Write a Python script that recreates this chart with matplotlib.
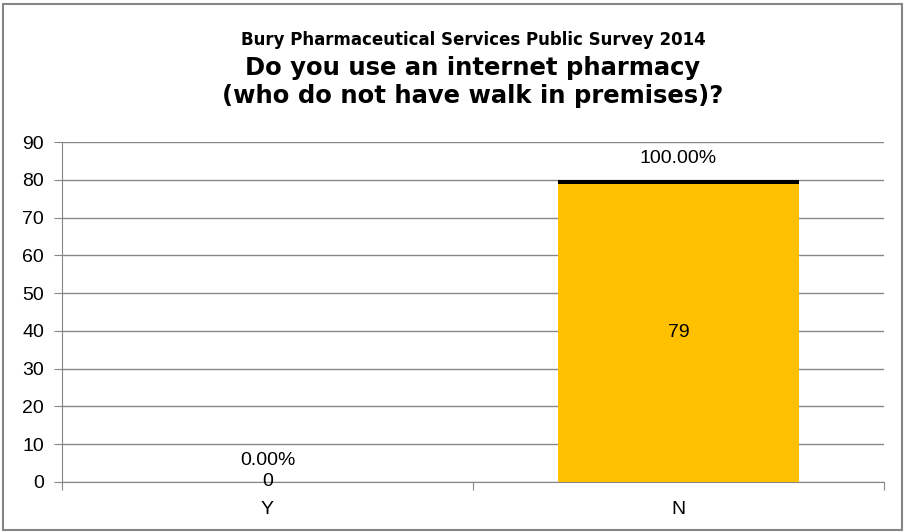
import matplotlib.pyplot as plt
from matplotlib.patches import Rectangle
import numpy as np

plt.rcParams['font.family'] = ['Liberation Sans', 'DejaVu Sans']

# chart data
categories = ["Y", "N"]
counts = [0, 79]
share = [0.0, 1.0]          # fraction of respondents, stacked on top as a thin black cap
share_labels = ["0.00%", "100.00%"]

grid_col = "#868686"

fig = plt.figure(figsize=(9.06, 5.32), dpi=100)
ax = fig.add_axes([0.0684, 0.094, 0.9073, 0.639])

x = np.arange(len(categories))
ax.bar(x, counts, width=0.586, color="#FFC000", zorder=3)
ax.bar(x, share, width=0.586, bottom=counts, color="black", zorder=3)

# value labels
for xi, c in zip(x, counts):
    ax.text(xi, c / 2, str(c), ha="center", va="center", fontsize=14, zorder=4)
for xi, c, s, lab in zip(x, counts, share, share_labels):
    ax.annotate(lab, (xi, c + s), xytext=(0, 15.5), textcoords="offset points",
                ha="center", va="center", fontsize=14, zorder=4)

ax.set_xlim(-0.5, 1.5)
ax.set_ylim(0, 90)
ax.set_yticks(range(0, 91, 10))
ax.yaxis.grid(True, color=grid_col, linewidth=1)
ax.set_axisbelow(True)

# category ticks sit on the boundaries, labels in the middle
ax.set_xticks([-0.5, 0.5, 1.5])
ax.set_xticklabels([])
ax.set_xticks(x, minor=True)
ax.set_xticklabels(categories, minor=True, fontsize=14)
ax.tick_params(axis="x", which="major", direction="out", length=6, color=grid_col)
ax.tick_params(axis="x", which="minor", length=0, pad=14)
ax.tick_params(axis="y", direction="out", length=6, color=grid_col, labelsize=14, pad=7)

for side in ["top", "right"]:
    ax.spines[side].set_visible(False)
for side in ["left", "bottom"]:
    ax.spines[side].set_color(grid_col)

# titles
cx = 0.0684 + 0.9073 / 2
fig.text(cx, 1 - 40 / 532, "Bury Pharmaceutical Services Public Survey 2014",
         ha="center", va="center", fontsize=12, fontweight="bold", family="DejaVu Sans")
fig.text(cx, 1 - 82 / 532, "Do you use an internet pharmacy\n(who do not have walk in premises)?",
         ha="center", va="center", fontsize=17.5, fontweight="bold", family="DejaVu Sans",
         linespacing=1.2)

# outer chart border
fig.patches.append(Rectangle((3 / 906, 2 / 532), 899 / 906, 526 / 532, transform=fig.transFigure,
                             fill=False, edgecolor=grid_col, linewidth=1.5))

fig.savefig("out.png", dpi=100)
